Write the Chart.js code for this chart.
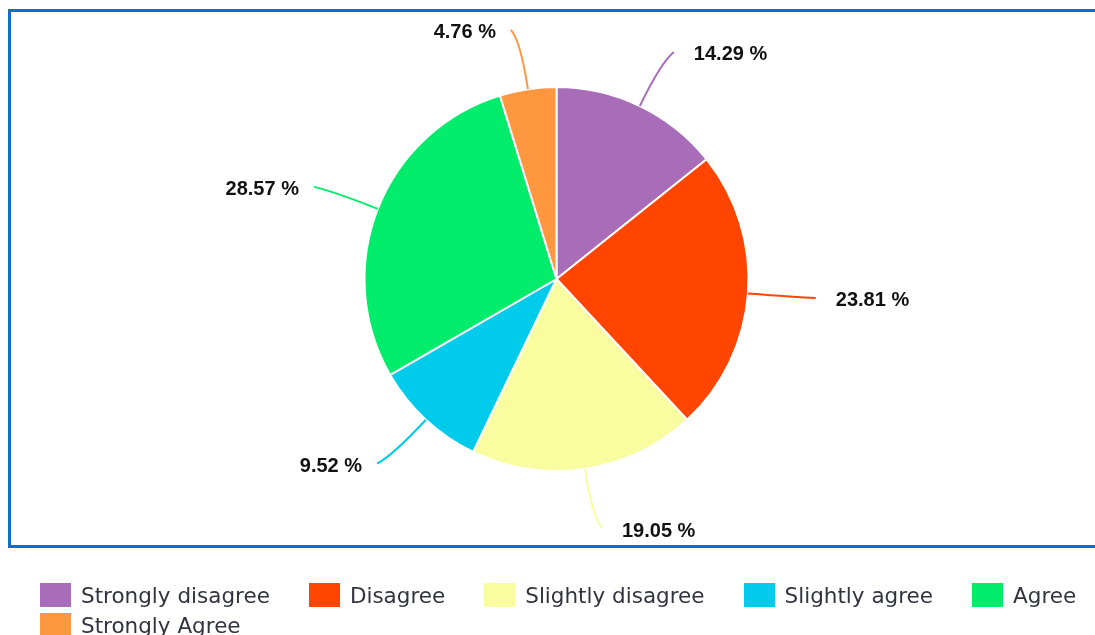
<!DOCTYPE html>
<html>
<head>
<meta charset="utf-8">
<script src="https://cdn.jsdelivr.net/npm/chart.js@4/dist/chart.umd.min.js"></script>
<style>
  html, body { margin: 0; padding: 0; background: #fff; overflow: hidden; }
  #frame {
    position: absolute; left: 8px; top: 9px; width: 1110px; height: 533px;
    border: 3px solid #0a6ed1; box-sizing: content-box;
  }
  #wrap { position: absolute; left: 0; top: 0; width: 1095px; height: 635px; }
  #legend {
    position: absolute; left: 40px; top: 583px; right: 0;
    display: flex; flex-wrap: wrap; column-gap: 39px; row-gap: 6px;
    font: 21.5px "DejaVu Sans", sans-serif; color: #333340;
  }
  .item { display: flex; align-items: center; height: 24px; }
  .box { width: 31px; height: 24px; margin-right: 10px; }
</style>
</head>
<body>
<div id="frame"></div>
<div id="wrap"><canvas id="pie" width="1095" height="635"></canvas></div>
<div id="legend"></div>
<script>
// Data
const categories = ['Strongly disagree', 'Disagree', 'Slightly disagree', 'Slightly agree', 'Agree', 'Strongly Agree'];
const percentages = [14.29, 23.81, 19.05, 9.52, 28.57, 4.76];
const sliceColors = ['#a86cb8', '#ff4500', '#fafca0', '#00cbea', '#00ec6a', '#ff9640'];

// Leader lines + percent labels outside the pie
const outsideLabels = {
    id: 'outsideLabels',
    afterDatasetsDraw(chart) {
        const ctx = chart.ctx;
        const meta = chart.getDatasetMeta(0);
        ctx.save();
        ctx.font = 'bold 20px "Liberation Sans", Arial, sans-serif';
        ctx.textBaseline = 'middle';
        meta.data.forEach((arc, i) => {
            const a = (arc.startAngle + arc.endAngle) / 2;
            const r = arc.outerRadius;
            const cos = Math.cos(a), sin = Math.sin(a);
            const right = cos >= 0;
            const p0 = { x: arc.x + cos * r, y: arc.y + sin * r };
            const p1 = { x: arc.x + cos * (r + 48), y: arc.y + sin * (r + 48) };
            const p2 = { x: arc.x + cos * (r + 60) + (right ? 8 : -8), y: arc.y + sin * (r + 60) };

            ctx.beginPath();
            ctx.moveTo(p0.x, p0.y);
            ctx.quadraticCurveTo(p1.x, p1.y, p2.x, p2.y);
            ctx.strokeStyle = sliceColors[i];
            ctx.lineWidth = 2;
            ctx.stroke();

            ctx.fillStyle = '#111';
            ctx.textAlign = right ? 'left' : 'right';
            const tx = right ? p2.x + 20 : p2.x - 15;
            ctx.fillText(percentages[i].toFixed(2) + ' %', tx, p2.y + 3);
        });
        ctx.restore();
    }
};

const pieChart = new Chart(document.getElementById('pie'), {
    type: 'pie',
    data: {
        labels: categories,
        datasets: [{
            data: percentages,
            backgroundColor: sliceColors,
            borderColor: '#ffffff',
            borderWidth: 2
        }]
    },
    options: {
        responsive: false,
        animation: false,
        layout: { padding: { left: 363, top: 86, right: 345, bottom: 163 } },
        plugins: {
            legend: { display: false },
            tooltip: { enabled: false }
        }
    },
    plugins: [outsideLabels]
});

// HTML legend built from the chart data
const legendEl = document.getElementById('legend');
categories.forEach((name, i) => {
    const item = document.createElement('div');
    item.className = 'item';
    const box = document.createElement('span');
    box.className = 'box';
    box.style.background = sliceColors[i];
    const text = document.createElement('span');
    text.textContent = name;
    item.appendChild(box);
    item.appendChild(text);
    legendEl.appendChild(item);
});
</script>
</body>
</html>
